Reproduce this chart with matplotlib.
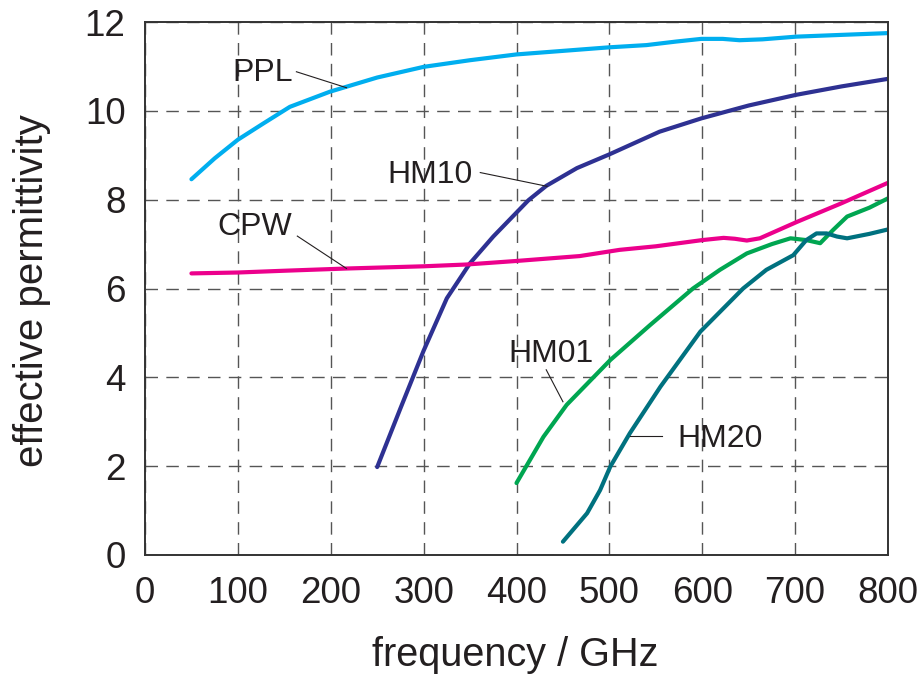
import matplotlib
matplotlib.use("Agg")
import matplotlib.pyplot as plt

plt.rcParams['font.family'] = ['Liberation Sans', 'DejaVu Sans']
plt.rcParams['lines.scale_dashes'] = False

# ---- data ----
ppl_x = [50, 75, 100, 127, 156, 199, 250, 300, 350, 400, 500, 540, 572, 599, 622, 640, 665, 701, 750, 800]
ppl_y = [8.46, 8.93, 9.35, 9.71, 10.09, 10.43, 10.75, 10.99, 11.14, 11.27, 11.43, 11.48, 11.56, 11.62, 11.62, 11.59, 11.61, 11.67, 11.71, 11.75]

hm10_x = [250, 275, 300, 325, 350, 375, 413, 432, 465, 500, 554, 599, 650, 701, 750, 800]
hm10_y = [1.98, 3.3, 4.6, 5.78, 6.57, 7.17, 7.99, 8.31, 8.71, 9.02, 9.53, 9.83, 10.12, 10.36, 10.55, 10.72]

cpw_x = [50, 100, 150, 217, 300, 346, 400, 468, 511, 550, 600, 623, 635, 648, 662, 702, 750, 800]
cpw_y = [6.34, 6.36, 6.40, 6.45, 6.50, 6.54, 6.62, 6.73, 6.87, 6.95, 7.09, 7.14, 7.12, 7.08, 7.13, 7.50, 7.92, 8.38]

hm01_x = [400, 429, 454, 501, 544, 590, 619, 648, 675, 695, 712, 727, 741, 756, 780, 800]
hm01_y = [1.62, 2.66, 3.38, 4.39, 5.18, 6.0, 6.42, 6.79, 7.0, 7.13, 7.09, 7.02, 7.32, 7.62, 7.82, 8.03]

hm20_x = [450, 476, 490, 501, 522, 555, 598, 644, 669, 698, 712, 723, 734, 745, 756, 780, 800]
hm20_y = [0.30, 0.94, 1.46, 1.99, 2.74, 3.79, 5.03, 6.0, 6.42, 6.75, 7.09, 7.24, 7.24, 7.17, 7.13, 7.23, 7.33]

xticks = [0, 100, 200, 300, 400, 500, 600, 700, 800]
yticks = [0, 2, 4, 6, 8, 10, 12]

c_ppl = '#00AEEF'
c_hm10 = '#2E3192'
c_cpw = '#EC008C'
c_hm01 = '#00A651'
c_hm20 = '#00717F'
txt = '#231F20'

fig = plt.figure(figsize=(9.24, 6.8), dpi=100)
ax = fig.add_axes([145/924, 1-555/680, (888-145)/924, (555-22)/680])

ax.set_xlim(0, 800)
ax.set_ylim(0, 12)
ax.set_xticks(xticks)
ax.set_yticks(yticks)
ax.grid(True, color='#555555', linewidth=1.0, linestyle=(0, (9, 6)))
ax.set_axisbelow(True)
for s in ax.spines.values():
    s.set_color('#333333')
    s.set_linewidth(1.4)
ax.tick_params(direction='in', length=0, labelsize=26.5, colors=txt)
ax.tick_params(axis='x', pad=15)
ax.tick_params(axis='y', pad=14)

lw = 3.0
for xs, ys, c in [(ppl_x, ppl_y, c_ppl), (hm10_x, hm10_y, c_hm10), (cpw_x, cpw_y, c_cpw),
                  (hm01_x, hm01_y, c_hm01), (hm20_x, hm20_y, c_hm20)]:
    ax.plot(xs, ys, color=c, lw=lw, solid_capstyle='round', solid_joinstyle='round')

# labels with leader lines
labels = [
    ('PPL', 127, 10.86, (163, 10.88), (217, 10.52)),
    ('HM10', 307, 8.56, (361, 8.61), (433, 8.30)),
    ('CPW', 118, 7.38, (164, 7.18), (217, 6.45)),
    ('HM01', 437, 4.53, (432, 4.17), (450, 3.45)),
    ('HM20', 619, 2.62, (522, 2.69), (557, 2.69)),
]
for name, tx, ty, p0, p1 in labels:
    ax.text(tx, ty, name, fontsize=23, color=txt, ha='center', va='center')
    ax.plot([p0[0], p1[0]], [p0[1], p1[1]], color=txt, lw=0.8)

fig.text(515.5/924, 1-655/680, 'frequency / GHz', fontsize=28.5, color=txt, ha='center', va='center')
fig.text(32/924, 1-291/680, 'effective permittivity', fontsize=29, color=txt,
         ha='center', va='center', rotation=90)

fig.savefig('out.png', dpi=100)
